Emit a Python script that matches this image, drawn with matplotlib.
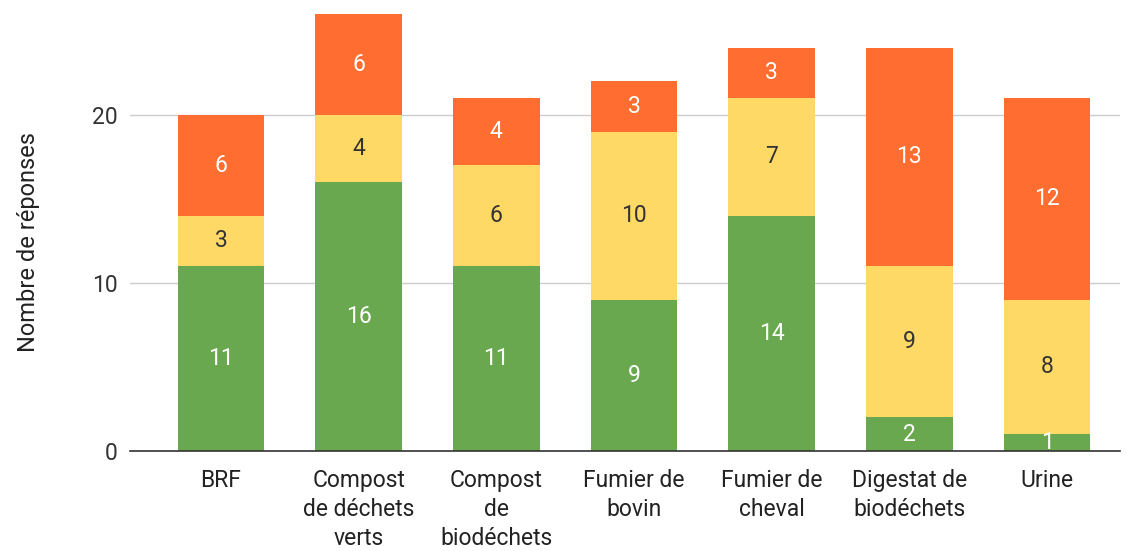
import matplotlib
matplotlib.use("Agg")
import matplotlib.pyplot as plt
import numpy as np

categories = ["BRF", "Compost\nde déchets\nverts", "Compost\nde\nbiodéchets", "Fumier de\nbovin",
              "Fumier de\ncheval", "Digestat de\nbiodéchets", "Urine"]
green_vals = [11, 16, 11, 9, 14, 2, 1]
yellow_vals = [3, 4, 6, 10, 7, 9, 8]
orange_vals = [6, 6, 4, 3, 3, 13, 12]
yticks = [0, 10, 20]

plt.rcParams['font.family'] = ['Roboto', 'DejaVu Sans']

fig = plt.figure(figsize=(11.26, 5.51), dpi=100)
ax = fig.add_axes([130/1126, 100/551, (1120-130)/1126, (451-9)/551])

x = np.arange(len(categories))
w = 0.63
colors = ["#6AA84F", "#FFD966", "#FF6D31"]
label_colors = ["white", "#333333", "white"]
bottom = np.zeros(len(categories))
for vals, c, lc in zip([green_vals, yellow_vals, orange_vals], colors, label_colors):
    vals = np.array(vals)
    bars = ax.bar(x, vals, w, bottom=bottom, color=c, zorder=3)
    for xi, b, v in zip(x, bottom, vals):
        ax.text(xi, b + v / 2, str(v), ha="center", va="center", color=lc, fontsize=16.5, zorder=4)
    bottom = bottom + vals

ax.set_xlim(-0.66, 6.53)
ax.set_ylim(0, 26.3)
ax.set_yticks(yticks)
ax.set_xticks(x)
ax.set_xticklabels(categories, fontsize=16.5, color="#222222", linespacing=1.34, va="top")
ax.tick_params(axis="y", labelsize=16.5, labelcolor="#333333", length=0, pad=9)
ax.tick_params(axis="x", length=0, pad=13)
ax.yaxis.grid(True, color="#CCCCCC", linewidth=1, zorder=0)
for s in ["top", "right", "left"]:
    ax.spines[s].set_visible(False)
ax.spines["bottom"].set_color("#333333")
ax.spines["bottom"].set_linewidth(1.2)
ax.spines["bottom"].set_zorder(5)
ax.set_ylabel("Nombre de réponses", fontsize=17, color="#222222", labelpad=0)
ax.yaxis.set_label_coords((40 - 130) / (1120 - 130), (451 - 242) / 442)

fig.savefig("out.png", dpi=100)
